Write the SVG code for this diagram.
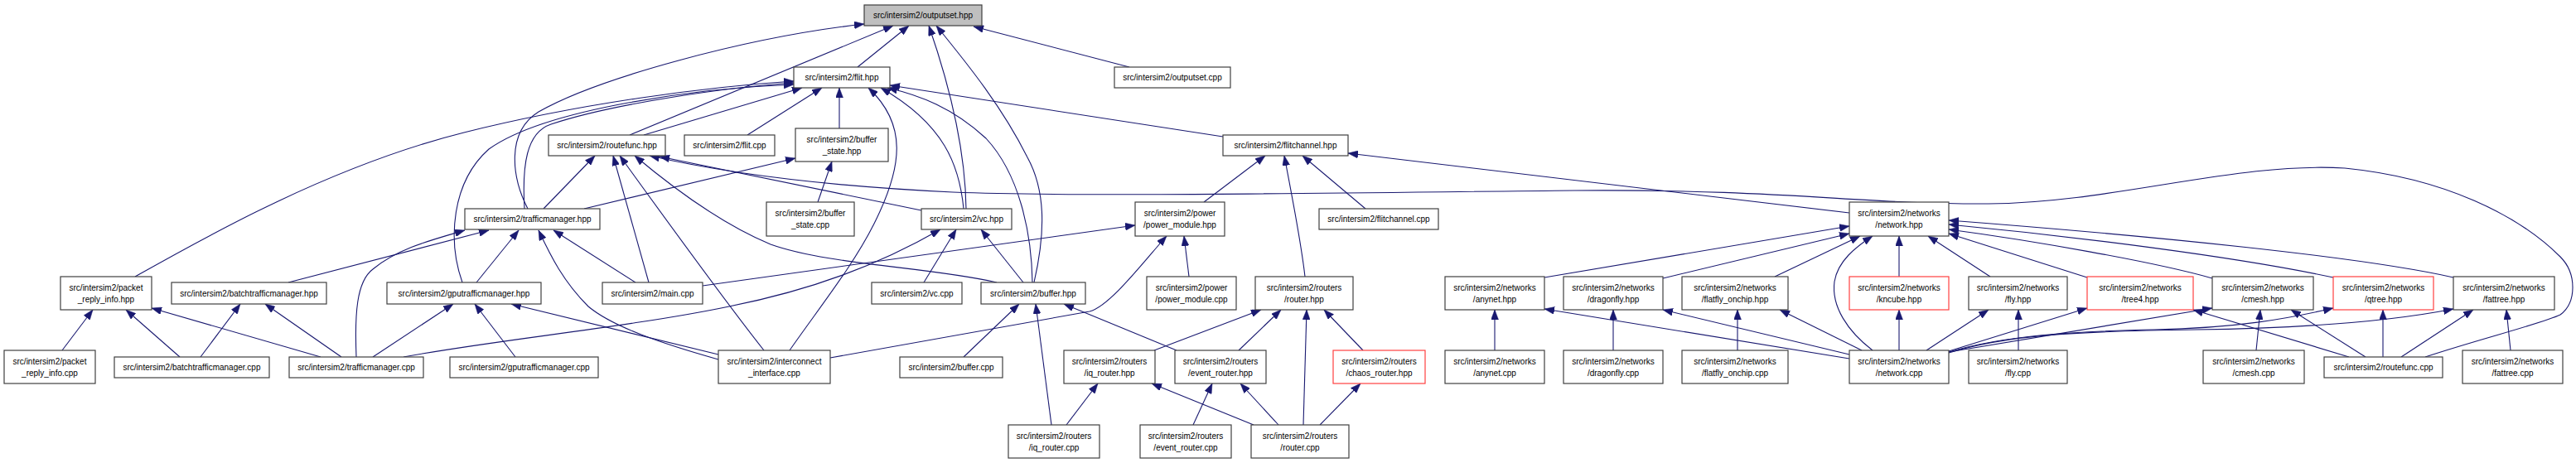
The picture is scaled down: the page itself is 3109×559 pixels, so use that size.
<svg xmlns="http://www.w3.org/2000/svg" width="3109" height="559" viewBox="0 0 3109 559">
<style>
rect{fill:#fff;stroke:#404040;stroke-width:1.2}
rect.red{stroke:#ff4040}
rect.root{fill:#bfbfbf}
text{font-family:"Liberation Sans",Arial,sans-serif;font-size:10px;fill:#000;text-anchor:middle}
#edges path{fill:none;stroke:#191970;stroke-width:1.1;marker-end:url(#a)}
</style>
<defs>
<marker id="a" markerWidth="12" markerHeight="9" refX="12" refY="4.5" orient="auto" markerUnits="userSpaceOnUse"><path d="M0,0 L12,4.5 L0,9 z" fill="#191970" stroke="#191970" stroke-width="0.5"/></marker>
</defs>
<rect x="0" y="0" width="3109" height="559" style="fill:#fff;stroke:none"/>
<g id="edges">
<path d="M1035,81 L1097,31"/>
<path d="M760,163 L1078,31"/>
<path d="M637,252 C618,215 610,160 650,135 C720,95 900,45 1043,29"/>
<path d="M1166,252 C1165,180 1145,100 1121,31"/>
<path d="M1248,341 C1262,280 1262,230 1240,190 C1210,130 1170,80 1130,31"/>
<path d="M1363,81 L1175,32"/>
<path d="M163,334 C250,285 400,200 560,160 C700,125 850,105 958,98"/>
<path d="M633,252 C630,200 635,160 665,150 C740,125 880,105 958,100"/>
<path d="M558,341 C540,290 545,220 590,180 C660,130 850,106 958,102"/>
<path d="M777,163 L968,106"/>
<path d="M902,163 L992,106"/>
<path d="M1013,155 L1013,106"/>
<path d="M953,423 C990,370 1030,320 1055,270 C1090,200 1095,150 1048,106"/>
<path d="M1163,252 C1158,200 1140,150 1063,106"/>
<path d="M1246,341 C1245,280 1230,210 1190,167 C1150,130 1110,115 1071,106"/>
<path d="M1476,165 L1074,103"/>
<path d="M656,252 L718,188"/>
<path d="M783,341 L740,188"/>
<path d="M922,423 C880,370 800,260 748,188"/>
<path d="M1203,341 C1120,322 1000,320 930,295 C870,270 810,225 766,188"/>
<path d="M1112,254 L796,189"/>
<path d="M2927,431 C2990,410 3070,390 3090,380 C3110,365 3110,330 3090,310 C3040,260 2950,215 2830,203 C2700,195 2550,245 2400,246 C2250,247 2150,228 1900,230 C1600,233 1300,238 1150,232 C1000,225 880,210 784,188"/>
<path d="M430,431 C428,380 430,340 450,325 C480,300 520,290 561,278"/>
<path d="M348,341 L590,278"/>
<path d="M575,341 L626,278"/>
<path d="M867,434 C800,415 740,395 710,370 C680,340 665,310 650,278"/>
<path d="M767,341 L668,278"/>
<path d="M705,252 L960,191"/>
<path d="M987,244 L1004,195"/>
<path d="M242,431 L290,367"/>
<path d="M412,431 L320,367"/>
<path d="M75,423 L112,374"/>
<path d="M217,431 L152,374"/>
<path d="M387,431 L183,372"/>
<path d="M450,431 L547,367"/>
<path d="M622,431 L573,367"/>
<path d="M867,428 L617,367"/>
<path d="M487,431 C600,410 760,395 880,370 C980,350 1060,320 1135,277"/>
<path d="M1115,341 L1154,277"/>
<path d="M1235,341 L1184,277"/>
<path d="M1163,431 L1230,367"/>
<path d="M1269,513 L1250,367"/>
<path d="M1420,423 L1284,367"/>
<path d="M848,345 L1370,272"/>
<path d="M1002,432 L1315,376 C1340,370 1385,310 1408,285"/>
<path d="M1435,334 L1429,285"/>
<path d="M1453,244 L1527,188"/>
<path d="M1575,334 C1570,290 1558,230 1550,188"/>
<path d="M1648,252 L1572,188"/>
<path d="M2232,257 L1627,185"/>
<path d="M1393,423 L1522,374"/>
<path d="M1495,423 L1546,374"/>
<path d="M1573,513 L1577,374"/>
<path d="M1645,423 L1598,374"/>
<path d="M1287,513 L1325,463"/>
<path d="M1513,513 L1390,463"/>
<path d="M1440,513 L1463,463"/>
<path d="M1543,513 L1497,463"/>
<path d="M1593,513 L1642,463"/>
<path d="M1864,335 L2232,273"/>
<path d="M2007,336 L2232,282"/>
<path d="M2142,334 L2245,285"/>
<path d="M2260,423 C2230,400 2210,370 2214,340 C2218,315 2240,298 2260,285"/>
<path d="M2292,334 L2292,285"/>
<path d="M2402,334 L2327,285"/>
<path d="M2519,335 L2352,282"/>
<path d="M2670,336 C2600,316 2450,290 2352,277"/>
<path d="M2816,335 C2700,310 2500,285 2352,271"/>
<path d="M2961,335 C2850,310 2600,285 2352,266"/>
<path d="M1804,423 L1804,374"/>
<path d="M2232,433 L1864,373"/>
<path d="M1947,423 L1947,374"/>
<path d="M2232,428 L2007,374"/>
<path d="M2097,423 L2097,374"/>
<path d="M2247,423 L2148,374"/>
<path d="M2292,423 L2292,374"/>
<path d="M2325,423 L2400,374"/>
<path d="M2436,423 L2436,374"/>
<path d="M2352,424 L2519,372"/>
<path d="M2835,431 L2647,374"/>
<path d="M2352,425 L2670,372"/>
<path d="M2723,423 L2728,374"/>
<path d="M2855,431 L2765,374"/>
<path d="M2352,425 C2420,405 2500,400 2600,398 C2700,396 2760,385 2816,372"/>
<path d="M2876,431 L2876,374"/>
<path d="M2352,426 C2420,405 2500,400 2650,398 C2800,396 2900,385 2961,373"/>
<path d="M2898,431 L2985,374"/>
<path d="M3030,423 L3025,374"/>
</g>
<g id="outputset_hpp"><rect class="root" x="1043" y="6" width="142" height="25"/><text x="1114" y="22">src/intersim2/outputset.hpp</text></g>
<g id="flit_hpp"><rect x="958" y="81" width="116" height="25"/><text x="1016" y="97">src/intersim2/flit.hpp</text></g>
<g id="outputset_cpp"><rect x="1345" y="81" width="140" height="25"/><text x="1415" y="97">src/intersim2/outputset.cpp</text></g>
<g id="routefunc_hpp"><rect x="662" y="163" width="141" height="25"/><text x="732.5" y="179">src/intersim2/routefunc.hpp</text></g>
<g id="flit_cpp"><rect x="826" y="163" width="109" height="25"/><text x="880.5" y="179">src/intersim2/flit.cpp</text></g>
<g id="buffer_state_hpp"><rect x="960" y="155" width="112" height="40"/><text x="1016" y="171.5">src/intersim2/buffer</text><text x="1016" y="185.5">_state.hpp</text></g>
<g id="flitchannel_hpp"><rect x="1476" y="163" width="151" height="25"/><text x="1551.5" y="179">src/intersim2/flitchannel.hpp</text></g>
<g id="trafficmanager_hpp"><rect x="561" y="252" width="163" height="25"/><text x="642.5" y="268">src/intersim2/trafficmanager.hpp</text></g>
<g id="buffer_state_cpp"><rect x="925" y="244" width="106" height="41"/><text x="978" y="261">src/intersim2/buffer</text><text x="978" y="275">_state.cpp</text></g>
<g id="vc_hpp"><rect x="1112" y="252" width="109" height="25"/><text x="1166.5" y="268">src/intersim2/vc.hpp</text></g>
<g id="power_module_hpp"><rect x="1370" y="244" width="108" height="41"/><text x="1424" y="261">src/intersim2/power</text><text x="1424" y="275">/power_module.hpp</text></g>
<g id="flitchannel_cpp"><rect x="1592" y="252" width="144" height="25"/><text x="1664" y="268">src/intersim2/flitchannel.cpp</text></g>
<g id="network_hpp"><rect x="2232" y="244" width="120" height="41"/><text x="2292" y="261">src/intersim2/networks</text><text x="2292" y="275">/network.hpp</text></g>
<g id="packet_reply_info_hpp"><rect x="73" y="334" width="110" height="40"/><text x="128" y="350.5">src/intersim2/packet</text><text x="128" y="364.5">_reply_info.hpp</text></g>
<g id="batchtrafficmanager_hpp"><rect x="207" y="341" width="187" height="26"/><text x="300.5" y="357.5">src/intersim2/batchtrafficmanager.hpp</text></g>
<g id="gputrafficmanager_hpp"><rect x="467" y="341" width="186" height="26"/><text x="560" y="357.5">src/intersim2/gputrafficmanager.hpp</text></g>
<g id="main_cpp"><rect x="727" y="341" width="121" height="26"/><text x="787.5" y="357.5">src/intersim2/main.cpp</text></g>
<g id="vc_cpp"><rect x="1052" y="341" width="109" height="26"/><text x="1106.5" y="357.5">src/intersim2/vc.cpp</text></g>
<g id="buffer_hpp"><rect x="1184" y="341" width="126" height="26"/><text x="1247" y="357.5">src/intersim2/buffer.hpp</text></g>
<g id="power_module_cpp"><rect x="1384" y="334" width="108" height="40"/><text x="1438" y="350.5">src/intersim2/power</text><text x="1438" y="364.5">/power_module.cpp</text></g>
<g id="router_hpp"><rect x="1515" y="334" width="118" height="40"/><text x="1574" y="350.5">src/intersim2/routers</text><text x="1574" y="364.5">/router.hpp</text></g>
<g id="anynet_hpp"><rect x="1744" y="334" width="120" height="40"/><text x="1804" y="350.5">src/intersim2/networks</text><text x="1804" y="364.5">/anynet.hpp</text></g>
<g id="dragonfly_hpp"><rect x="1887" y="334" width="120" height="40"/><text x="1947" y="350.5">src/intersim2/networks</text><text x="1947" y="364.5">/dragonfly.hpp</text></g>
<g id="flatfly_onchip_hpp"><rect x="2030" y="334" width="128" height="40"/><text x="2094" y="350.5">src/intersim2/networks</text><text x="2094" y="364.5">/flatfly_onchip.hpp</text></g>
<g id="kncube_hpp"><rect class="red" x="2232" y="334" width="120" height="40"/><text x="2292" y="350.5">src/intersim2/networks</text><text x="2292" y="364.5">/kncube.hpp</text></g>
<g id="fly_hpp"><rect x="2376" y="334" width="119" height="40"/><text x="2435.5" y="350.5">src/intersim2/networks</text><text x="2435.5" y="364.5">/fly.hpp</text></g>
<g id="tree4_hpp"><rect class="red" x="2519" y="334" width="128" height="40"/><text x="2583" y="350.5">src/intersim2/networks</text><text x="2583" y="364.5">/tree4.hpp</text></g>
<g id="cmesh_hpp"><rect x="2670" y="334" width="122" height="40"/><text x="2731" y="350.5">src/intersim2/networks</text><text x="2731" y="364.5">/cmesh.hpp</text></g>
<g id="qtree_hpp"><rect class="red" x="2816" y="334" width="121" height="40"/><text x="2876.5" y="350.5">src/intersim2/networks</text><text x="2876.5" y="364.5">/qtree.hpp</text></g>
<g id="fattree_hpp"><rect x="2961" y="334" width="122" height="40"/><text x="3022" y="350.5">src/intersim2/networks</text><text x="3022" y="364.5">/fattree.hpp</text></g>
<g id="packet_reply_info_cpp"><rect x="5" y="423" width="110" height="40"/><text x="60" y="439.5">src/intersim2/packet</text><text x="60" y="453.5">_reply_info.cpp</text></g>
<g id="batchtrafficmanager_cpp"><rect x="138" y="431" width="187" height="25"/><text x="231.5" y="447">src/intersim2/batchtrafficmanager.cpp</text></g>
<g id="trafficmanager_cpp"><rect x="349" y="431" width="162" height="25"/><text x="430" y="447">src/intersim2/trafficmanager.cpp</text></g>
<g id="gputrafficmanager_cpp"><rect x="543" y="431" width="179" height="25"/><text x="632.5" y="447">src/intersim2/gputrafficmanager.cpp</text></g>
<g id="interconnect_interface_cpp"><rect x="867" y="423" width="135" height="40"/><text x="934.5" y="439.5">src/intersim2/interconnect</text><text x="934.5" y="453.5">_interface.cpp</text></g>
<g id="buffer_cpp"><rect x="1086" y="431" width="124" height="25"/><text x="1148" y="447">src/intersim2/buffer.cpp</text></g>
<g id="iq_router_hpp"><rect x="1284" y="423" width="110" height="40"/><text x="1339" y="439.5">src/intersim2/routers</text><text x="1339" y="453.5">/iq_router.hpp</text></g>
<g id="event_router_hpp"><rect x="1418" y="423" width="110" height="40"/><text x="1473" y="439.5">src/intersim2/routers</text><text x="1473" y="453.5">/event_router.hpp</text></g>
<g id="chaos_router_hpp"><rect class="red" x="1609" y="423" width="111" height="40"/><text x="1664.5" y="439.5">src/intersim2/routers</text><text x="1664.5" y="453.5">/chaos_router.hpp</text></g>
<g id="anynet_cpp"><rect x="1744" y="423" width="120" height="40"/><text x="1804" y="439.5">src/intersim2/networks</text><text x="1804" y="453.5">/anynet.cpp</text></g>
<g id="dragonfly_cpp"><rect x="1887" y="423" width="120" height="40"/><text x="1947" y="439.5">src/intersim2/networks</text><text x="1947" y="453.5">/dragonfly.cpp</text></g>
<g id="flatfly_onchip_cpp"><rect x="2030" y="423" width="128" height="40"/><text x="2094" y="439.5">src/intersim2/networks</text><text x="2094" y="453.5">/flatfly_onchip.cpp</text></g>
<g id="network_cpp"><rect x="2232" y="423" width="120" height="40"/><text x="2292" y="439.5">src/intersim2/networks</text><text x="2292" y="453.5">/network.cpp</text></g>
<g id="fly_cpp"><rect x="2376" y="423" width="119" height="40"/><text x="2435.5" y="439.5">src/intersim2/networks</text><text x="2435.5" y="453.5">/fly.cpp</text></g>
<g id="cmesh_cpp"><rect x="2659" y="423" width="122" height="40"/><text x="2720" y="439.5">src/intersim2/networks</text><text x="2720" y="453.5">/cmesh.cpp</text></g>
<g id="routefunc_cpp"><rect x="2805" y="431" width="143" height="25"/><text x="2876.5" y="447">src/intersim2/routefunc.cpp</text></g>
<g id="fattree_cpp"><rect x="2972" y="423" width="121" height="40"/><text x="3032.5" y="439.5">src/intersim2/networks</text><text x="3032.5" y="453.5">/fattree.cpp</text></g>
<g id="iq_router_cpp"><rect x="1217" y="513" width="110" height="40"/><text x="1272" y="529.5">src/intersim2/routers</text><text x="1272" y="543.5">/iq_router.cpp</text></g>
<g id="event_router_cpp"><rect x="1376" y="513" width="110" height="40"/><text x="1431" y="529.5">src/intersim2/routers</text><text x="1431" y="543.5">/event_router.cpp</text></g>
<g id="router_cpp"><rect x="1510" y="513" width="118" height="40"/><text x="1569" y="529.5">src/intersim2/routers</text><text x="1569" y="543.5">/router.cpp</text></g>
</svg>
